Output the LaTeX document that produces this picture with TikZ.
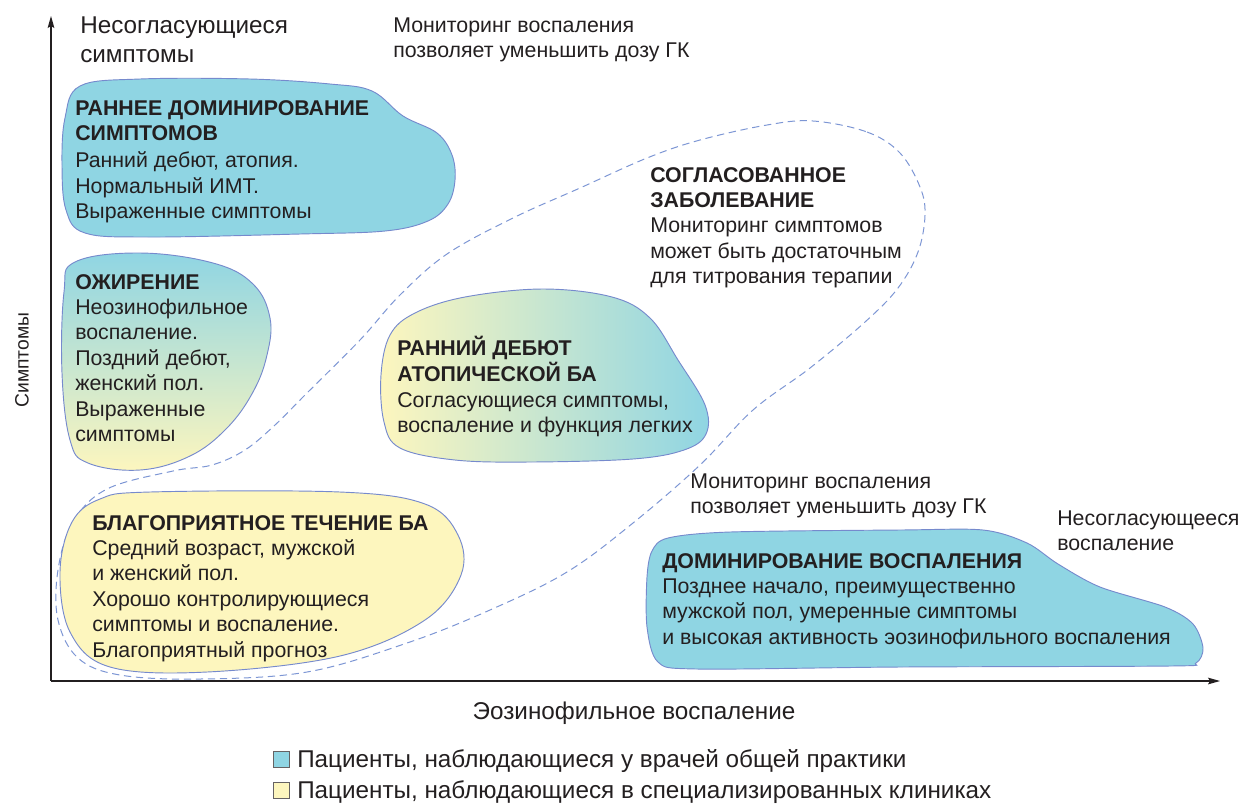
\documentclass[tikz,border=0pt]{standalone}
\usepackage{fontspec}
\setmainfont{Liberation Sans}
\usetikzlibrary{arrows.meta}
\definecolor{tealfill}{RGB}{143,213,227}
\definecolor{palefill}{RGB}{253,246,190}
\definecolor{edgeblue}{RGB}{118,138,205}
\definecolor{dashblue}{RGB}{125,150,212}
\definecolor{ink}{RGB}{35,31,32}
\newcommand\bodyfont{\fontsize{16}{19.1}\selectfont}
\newcommand\largefont{\fontsize{18.2}{21.75}\selectfont}
% a block of left-aligned lines whose baseline is that of its first line
\newcommand\txtblock[1]{\begin{tabular}[t]{@{}l@{}}#1\end{tabular}}
\begin{document}
\begin{tikzpicture}[x=0.75pt,y=-0.75pt,
  blob/.style={draw=edgeblue, line width=0.7pt},
  loop/.style={draw=dashblue, line width=0.75pt, dash pattern=on 5.5pt off 3.5pt},
  axis/.style={draw=ink, line width=0.9pt, -{Stealth[length=9pt,width=5pt,inset=1.5pt]}},
  txt/.style={anchor=base west, inner sep=0pt, font=\bodyfont, text=ink},
  key/.style={draw=ink!70, line width=0.6pt, minimum size=12.5pt, inner sep=0pt}]
\useasboundingbox (0,0) rectangle (1244,808);

% axes
\coordinate (O) at (51,681);
\coordinate (ytip) at (51,16);
\coordinate (xtip) at (1220,681);
\draw[axis] (O) -- (ytip);
\draw[axis] (O) -- (xtip);

% dashed outline of the concordant disease area
\path[loop] plot[smooth cycle, tension=0.6] coordinates {
  (813,121) (867,132) (900,153) (920,187) (925,215) (918,252) (898,288)
  (865,322) (810,368) (753,410) (700,465) (633,523) (567,572) (490,610)
  (407,643) (307,672) (200,679) (120,675) (78,658) (58,620) (58,570)
  (73,522) (107,489) (173,471) (212,465) (245,450) (275,425) (305,395)
  (360,340) (400,295) (447,254) (513,218) (580,188) (647,158) (700,140) (767,125)};

% early symptom predominance
\path[blob, fill=tealfill] plot[smooth cycle, tension=0.6] coordinates {
  (80,86) (140,79) (250,79) (330,84) (372,91) (403,116) (437,133) (452,155)
  (455,180) (448,204) (428,221) (385,231) (300,234) (150,237) (85,233)
  (66,210) (62,165) (65,118)};

% obesity
\path[blob, top color=tealfill, bottom color=palefill] plot[smooth cycle, tension=0.65] coordinates {
  (75,262) (140,253) (213,263) (253,284) (270,318) (267,355) (253,392)
  (227,428) (190,456) (140,470) (88,463) (70,440) (62,373) (64,292)};

% early onset atopic asthma
\path[blob, left color=palefill, right color=tealfill] plot[smooth cycle, tension=0.6] coordinates {
  (390,335) (415,313) (465,297) (543,289) (612,297) (650,318) (678,360)
  (705,405) (706,434) (684,450) (633,459) (530,462) (455,460) (400,448)
  (384,422) (381,375)};

% benign asthma
\path[blob, fill=palefill] plot[smooth cycle, tension=0.6] coordinates {
  (100,499) (150,492) (340,492) (425,504) (458,535) (461,575) (425,620)
  (340,656) (207,672) (110,667) (70,632) (60,572) (72,522)};

% inflammation predominance
\path[blob, fill=tealfill] plot[smooth cycle, tension=0.5] coordinates {
  (668,538) (730,532) (900,530) (983,530) (1027,543) (1058,564) (1100,587)
  (1165,607) (1193,624) (1203,648) (1196,663) (1170,666) (900,667)
  (697,669) (658,662) (647,627) (647,577) (652,551)};

% axis labels and annotations
\node[txt, font=\largefont] (ytop) at (80,33) {\txtblock{Несогласующиеся\\симптомы}};
\node[txt] (montop) at (393,32) {\txtblock{Мониторинг воспаления\\позволяет уменьшить дозу ГК}};
\node[txt] (monlow) at (690,488) {\txtblock{Мониторинг воспаления\\позволяет уменьшить дозу ГК}};
\node[txt] (xright) at (1057,525) {\txtblock{Несогласующееся\\воспаление}};
\node[font=\fontsize{14.5}{17}\selectfont, text=ink, rotate=90, inner sep=0pt] (ylab) at (22,360) {Симптомы};
\node[font=\largefont, text=ink, anchor=base, inner sep=0pt] (xlab) at (634,719) {Эозинофильное воспаление};

% cluster texts
\node[txt] (c1) at (75,115) {\txtblock{\textbf{РАННЕЕ ДОМИНИРОВАНИЕ}\\\textbf{СИМПТОМОВ}\\[1.5pt]Ранний дебют, атопия.\\Нормальный ИМТ.\\Выраженные симптомы}};
\node[txt] (c2) at (75,289) {\txtblock{\textbf{ОЖИРЕНИЕ}\\Неозинофильное\\воспаление.\\Поздний дебют,\\женский пол.\\Выраженные\\симптомы}};
\node[txt] (c3) at (397,355) {\txtblock{\textbf{РАННИЙ ДЕБЮТ}\\\textbf{АТОПИЧЕСКОЙ БА}\\Согласующиеся симптомы,\\воспаление и функция легких}};
\node[txt] (c4) at (92,530) {\txtblock{\textbf{БЛАГОПРИЯТНОЕ ТЕЧЕНИЕ БА}\\Средний возраст, мужской\\и женский пол.\\Хорошо контролирующиеся\\симптомы и воспаление.\\Благоприятный прогноз}};
\node[txt] (c5) at (662,568) {\txtblock{\textbf{ДОМИНИРОВАНИЕ ВОСПАЛЕНИЯ}\\Позднее начало, преимущественно\\мужской пол, умеренные симптомы\\и высокая активность эозинофильного воспаления}};
\node[txt] (c6) at (650,182) {\txtblock{\textbf{СОГЛАСОВАННОЕ}\\\textbf{ЗАБОЛЕВАНИЕ}\\Мониторинг симптомов\\может быть достаточным\\для титрования терапии}};

% legend
\node[key, fill=tealfill] (k1) at (281.5,759.5) {};
\node[key, fill=palefill] (k2) at (281.5,790.5) {};
\node[txt, font=\largefont] (l1) at (297,767) {Пациенты, наблюдающиеся у врачей общей практики};
\node[txt, font=\largefont] (l2) at (297,798) {Пациенты, наблюдающиеся в специализированных клиниках};
\end{tikzpicture}
\end{document}
